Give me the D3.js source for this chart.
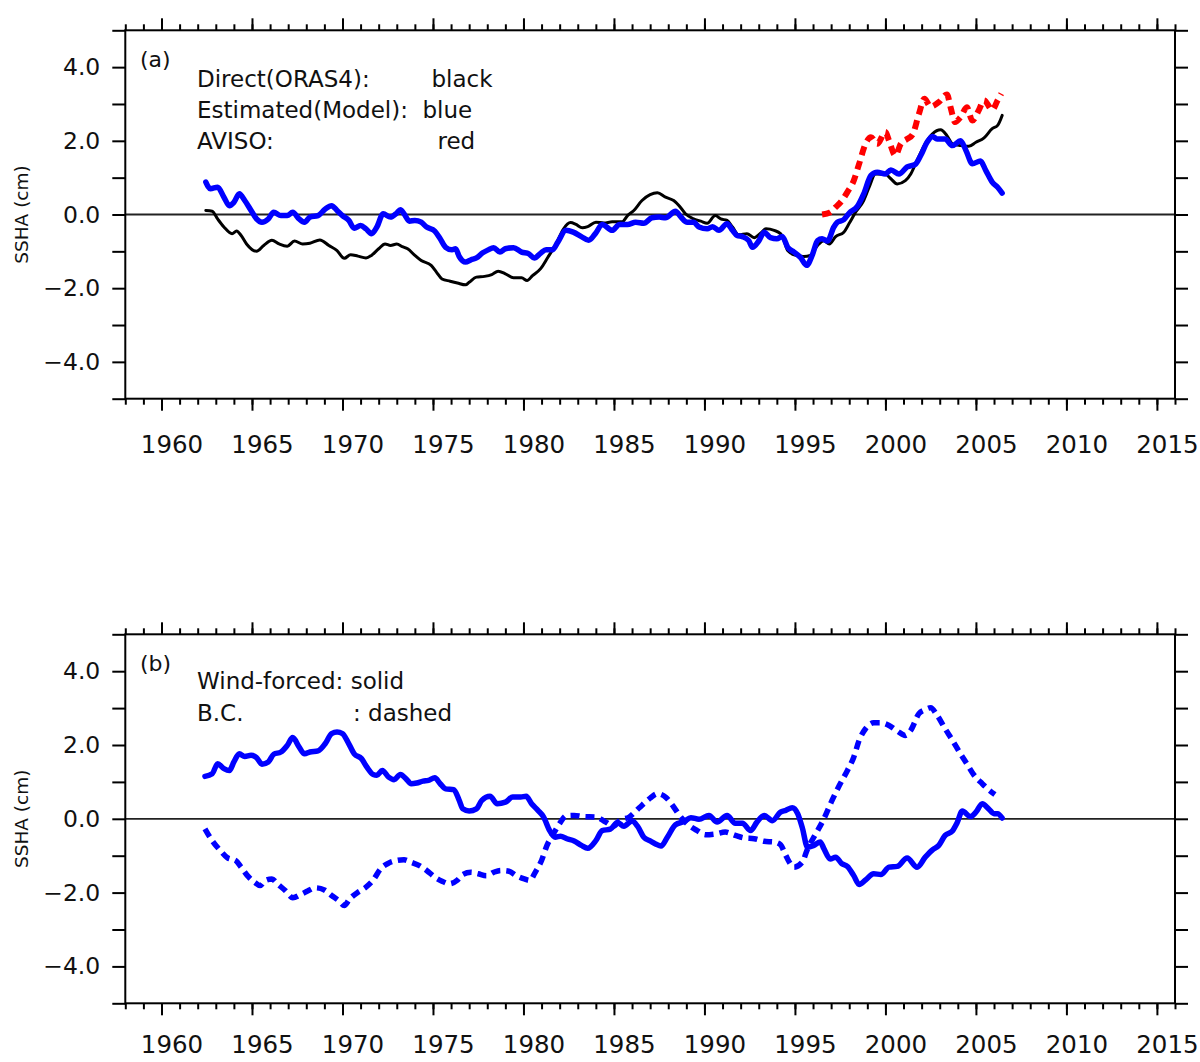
<!DOCTYPE html>
<html>
<head>
<meta charset="utf-8">
<script src="https://cdn.jsdelivr.net/npm/d3@7"></script>
<style>
  html, body { margin: 0; padding: 0; background: #fff; }
  svg { display: block; font-family: "DejaVu Sans", sans-serif; }
  .tick line { stroke: #000; stroke-width: 2; }
</style>
</head>
<body>
<svg id="chart" width="1200" height="1062"></svg>
<script>
(function () {
  "use strict";

  // ---- data (year, SSHA in cm) ----
  const directOras4 = [
    [1962.45,0.11],[1962.8,0.09],[1963.1,-0.12],[1963.45,-0.34],[1963.9,-0.52],[1964.15,-0.45],[1964.4,-0.57],[1964.7,-0.8],
    [1965.25,-1.0],[1965.65,-0.84],[1966.1,-0.7],[1966.5,-0.8],[1966.95,-0.86],[1967.35,-0.72],[1967.8,-0.8],[1968.2,-0.78],
    [1968.75,-0.69],[1969.25,-0.84],[1969.7,-0.98],[1970.1,-1.19],[1970.45,-1.09],[1970.85,-1.13],[1971.3,-1.18],[1971.6,-1.11],
    [1972.0,-0.93],[1972.35,-0.8],[1972.65,-0.84],[1973.0,-0.8],[1973.3,-0.87],[1973.6,-0.93],[1974.0,-1.11],[1974.35,-1.25],
    [1974.9,-1.38],[1975.2,-1.57],[1975.5,-1.75],[1975.95,-1.81],[1976.35,-1.86],[1976.8,-1.91],[1977.0,-1.84],[1977.4,-1.7],
    [1977.85,-1.68],[1978.25,-1.63],[1978.6,-1.54],[1979.0,-1.61],[1979.45,-1.72],[1979.9,-1.72],[1980.2,-1.79],[1980.5,-1.66],
    [1980.95,-1.47],[1981.35,-1.16],[1981.8,-0.8],[1982.2,-0.4],[1982.6,-0.22],[1982.9,-0.27],[1983.25,-0.36],[1983.55,-0.33],
    [1984.0,-0.21],[1984.45,-0.23],[1984.9,-0.2],[1985.45,-0.2],[1985.75,-0.03],[1986.1,0.11],[1986.55,0.38],[1987.0,0.54],
    [1987.4,0.59],[1987.85,0.47],[1988.3,0.38],[1988.6,0.24],[1988.95,0.02],[1989.4,-0.12],[1989.8,-0.18],[1990.15,-0.24],
    [1990.6,-0.03],[1990.9,-0.12],[1991.25,-0.16],[1991.55,-0.34],[1991.9,-0.55],[1992.35,-0.52],[1992.75,-0.63],[1993.1,-0.51],
    [1993.4,-0.39],[1993.85,-0.43],[1994.2,-0.52],[1994.4,-0.71],[1994.6,-0.98],[1995.05,-1.11],[1995.5,-1.14],[1995.85,-1.11],
    [1996.25,-0.84],[1996.6,-0.71],[1996.9,-0.8],[1997.25,-0.6],[1997.7,-0.48],[1998.0,-0.24],[1998.35,0.06],[1998.8,0.38],
    [1999.1,0.74],[1999.45,1.1],[2000.0,1.09],[2000.3,0.97],[2000.65,0.83],[2001.1,0.92],[2001.4,1.1],[2001.75,1.47],
    [2002.2,1.92],[2002.6,2.19],[2003.05,2.3],[2003.4,2.14],[2003.7,1.92],[2004.15,1.87],[2004.6,1.85],[2005.0,1.96],
    [2005.45,2.08],[2005.9,2.33],[2006.2,2.42],[2006.45,2.69]
  ];

  const estimatedModel = [
    [1962.45,0.88],[1962.7,0.7],[1963.1,0.74],[1963.45,0.47],[1963.75,0.24],[1964.0,0.33],[1964.3,0.56],[1964.6,0.38],
    [1964.95,0.11],[1965.25,-0.12],[1965.55,-0.21],[1965.9,-0.12],[1966.2,0.06],[1966.6,-0.03],[1966.95,-0.03],[1967.25,0.06],
    [1967.6,-0.12],[1967.9,-0.21],[1968.2,-0.07],[1968.65,-0.03],[1969.05,0.15],[1969.4,0.24],[1969.7,0.11],[1970.0,-0.03],
    [1970.35,-0.16],[1970.65,-0.37],[1971.0,-0.3],[1971.3,-0.39],[1971.6,-0.52],[1971.9,-0.34],[1972.25,0.02],[1972.65,-0.07],
    [1973.0,0.04],[1973.2,0.13],[1973.4,0.02],[1973.7,-0.18],[1974.0,-0.16],[1974.35,-0.21],[1974.65,-0.34],[1975.1,-0.45],
    [1975.4,-0.66],[1975.7,-0.89],[1976.05,-0.96],[1976.25,-0.93],[1976.45,-1.14],[1976.8,-1.29],[1977.1,-1.23],[1977.4,-1.18],
    [1977.75,-1.04],[1978.05,-0.96],[1978.35,-0.9],[1978.7,-1.02],[1979.0,-0.93],[1979.45,-0.9],[1979.9,-1.02],[1980.3,-1.07],
    [1980.6,-1.18],[1980.95,-1.05],[1981.25,-0.96],[1981.6,-0.96],[1981.9,-0.75],[1982.35,-0.43],[1982.75,-0.48],[1983.2,-0.6],
    [1983.6,-0.7],[1984.0,-0.5],[1984.35,-0.27],[1984.9,-0.43],[1985.3,-0.27],[1985.75,-0.27],[1986.2,-0.21],[1986.65,-0.24],
    [1987.1,-0.09],[1987.5,-0.07],[1987.85,-0.09],[1988.4,0.09],[1988.7,-0.07],[1989.05,-0.21],[1989.4,-0.21],[1989.7,-0.34],
    [1990.15,-0.39],[1990.45,-0.33],[1990.8,-0.43],[1991.25,-0.25],[1991.55,-0.43],[1991.8,-0.57],[1992.1,-0.6],[1992.45,-0.71],
    [1992.65,-0.89],[1993.0,-0.72],[1993.3,-0.48],[1993.65,-0.63],[1994.0,-0.66],[1994.3,-0.6],[1994.6,-0.89],[1994.95,-1.02],
    [1995.3,-1.16],[1995.65,-1.38],[1995.95,-1.11],[1996.25,-0.71],[1996.5,-0.66],[1996.8,-0.72],[1997.15,-0.34],[1997.35,-0.21],
    [1997.7,-0.14],[1998.0,0.04],[1998.45,0.22],[1998.8,0.56],[1999.2,1.06],[1999.55,1.15],[2000.0,1.1],[2000.3,1.21],
    [2000.75,1.1],[2001.2,1.29],[2001.65,1.36],[2001.95,1.6],[2002.3,1.96],[2002.6,2.12],[2002.85,2.05],[2003.3,2.05],
    [2003.7,1.87],[2004.15,2.0],[2004.45,1.74],[2004.8,1.38],[2005.25,1.45],[2005.55,1.19],[2005.9,0.88],[2006.2,0.74],
    [2006.45,0.58]
  ];

  const aviso = [
    [1996.5,0.0],[1996.95,0.06],[1997.25,0.2],[1997.6,0.38],[1997.9,0.61],[1998.25,0.92],[1998.55,1.38],[1998.9,1.92],
    [1999.2,2.1],[1999.55,1.92],[2000.0,2.24],[2000.2,2.0],[2000.55,1.6],[2000.85,1.92],[2001.2,2.05],[2001.5,2.17],
    [2001.85,2.73],[2002.15,3.14],[2002.5,2.93],[2002.95,3.05],[2003.4,3.26],[2003.6,2.91],[2003.85,2.51],[2004.15,2.64],
    [2004.5,2.91],[2004.8,2.55],[2005.15,2.82],[2005.45,3.1],[2005.9,2.84],[2006.2,3.1],[2006.4,3.28]
  ];

  const windForced = [
    [1962.4,1.15],[1962.8,1.22],[1963.1,1.49],[1963.45,1.36],[1963.75,1.31],[1964.0,1.54],[1964.3,1.76],[1964.6,1.69],
    [1964.95,1.72],[1965.25,1.66],[1965.55,1.48],[1965.9,1.54],[1966.2,1.75],[1966.6,1.81],[1966.95,1.99],[1967.25,2.2],
    [1967.6,1.95],[1967.9,1.76],[1968.2,1.81],[1968.65,1.84],[1969.05,2.04],[1969.4,2.31],[1969.7,2.35],[1970.0,2.31],
    [1970.3,2.08],[1970.65,1.76],[1971.05,1.63],[1971.35,1.4],[1971.7,1.2],[1971.9,1.18],[1972.2,1.31],[1972.55,1.13],
    [1972.85,1.06],[1973.2,1.2],[1973.5,1.09],[1973.8,0.95],[1974.1,0.97],[1974.45,1.02],[1974.75,1.04],[1975.1,1.11],
    [1975.4,0.95],[1975.7,0.81],[1976.15,0.79],[1976.45,0.5],[1976.65,0.27],[1977.0,0.21],[1977.4,0.27],[1977.7,0.5],
    [1978.15,0.61],[1978.55,0.41],[1979.0,0.45],[1979.4,0.59],[1979.85,0.59],[1980.15,0.61],[1980.45,0.41],[1980.8,0.23],
    [1981.1,0.06],[1981.45,-0.32],[1981.75,-0.5],[1982.05,-0.47],[1982.4,-0.54],[1982.8,-0.6],[1983.2,-0.72],[1983.55,-0.8],
    [1984.0,-0.59],[1984.35,-0.32],[1984.8,-0.28],[1985.2,-0.1],[1985.55,-0.2],[1986.0,-0.06],[1986.3,-0.2],[1986.65,-0.5],
    [1987.0,-0.6],[1987.3,-0.68],[1987.6,-0.74],[1987.95,-0.5],[1988.4,-0.16],[1988.85,-0.08],[1989.25,0.03],[1989.7,-0.01],
    [1990.25,0.09],[1990.7,-0.09],[1991.25,0.09],[1991.7,-0.12],[1992.1,-0.12],[1992.55,-0.32],[1992.9,-0.09],[1993.3,0.09],
    [1993.75,-0.05],[1994.2,0.18],[1994.5,0.23],[1994.85,0.3],[1995.15,0.14],[1995.4,-0.23],[1995.7,-0.77],[1996.05,-0.72],
    [1996.4,-0.63],[1996.6,-0.81],[1996.95,-1.09],[1997.25,-1.04],[1997.6,-1.22],[1997.9,-1.29],[1998.25,-1.54],[1998.55,-1.78],
    [1998.9,-1.66],[1999.35,-1.49],[1999.75,-1.51],[2000.2,-1.31],[2000.65,-1.29],[2001.2,-1.06],[2001.75,-1.31],[2002.2,-1.04],
    [2002.6,-0.84],[2002.95,-0.72],[2003.3,-0.45],[2003.7,-0.33],[2003.95,-0.12],[2004.25,0.21],[2004.7,0.06],[2005.0,0.18],
    [2005.35,0.41],[2005.7,0.27],[2006.0,0.14],[2006.2,0.14],[2006.45,0.02]
  ];

  const boundaryCond = [
    [1962.4,-0.27],[1962.8,-0.59],[1963.25,-0.86],[1963.65,-1.06],[1964.1,-1.13],[1964.4,-1.31],[1964.8,-1.57],[1965.15,-1.72],
    [1965.45,-1.81],[1965.75,-1.67],[1966.1,-1.63],[1966.4,-1.76],[1966.85,-1.95],[1967.25,-2.14],[1967.7,-2.05],[1968.1,-1.95],
    [1968.5,-1.87],[1969.0,-1.93],[1969.4,-2.08],[1969.8,-2.22],[1970.1,-2.35],[1970.4,-2.17],[1970.85,-1.99],[1971.25,-1.87],
    [1971.7,-1.66],[1972.1,-1.36],[1972.55,-1.2],[1973.0,-1.13],[1973.4,-1.11],[1973.8,-1.18],[1974.25,-1.27],[1974.65,-1.4],
    [1975.1,-1.58],[1975.5,-1.69],[1975.9,-1.76],[1976.35,-1.66],[1976.65,-1.51],[1977.1,-1.45],[1977.5,-1.49],[1977.95,-1.54],
    [1978.35,-1.45],[1978.75,-1.4],[1979.2,-1.42],[1979.6,-1.54],[1980.05,-1.63],[1980.35,-1.67],[1980.65,-1.45],[1981.0,-1.13],
    [1981.3,-0.72],[1981.65,-0.41],[1982.05,-0.09],[1982.35,0.08],[1982.8,0.09],[1983.3,0.06],[1984.0,0.05],[1984.55,-0.09],
    [1985.0,-0.2],[1985.3,-0.05],[1985.85,0.05],[1986.4,0.3],[1987.0,0.56],[1987.4,0.68],[1987.85,0.59],[1988.3,0.32],
    [1988.7,0.04],[1989.15,-0.18],[1989.6,-0.32],[1990.05,-0.43],[1990.6,-0.41],[1991.15,-0.36],[1991.7,-0.45],[1992.2,-0.52],
    [1992.75,-0.54],[1993.3,-0.61],[1993.85,-0.63],[1994.2,-0.7],[1994.5,-1.0],[1994.95,-1.31],[1995.4,-1.18],[1995.7,-0.81],
    [1996.15,-0.41],[1996.6,0.0],[1997.05,0.5],[1997.45,0.9],[1997.9,1.31],[1998.25,1.67],[1998.55,2.13],[1998.9,2.44],
    [1999.35,2.6],[1999.75,2.6],[2000.2,2.53],[2000.65,2.38],[2001.1,2.26],[2001.4,2.4],[2001.85,2.85],[2002.2,2.96],
    [2002.5,3.01],[2002.85,2.81],[2003.3,2.44],[2003.7,2.13],[2004.15,1.76],[2004.5,1.49],[2004.9,1.18],[2005.35,0.95],
    [2005.7,0.79],[2006.05,0.66]
  ];

  const xMajorTicks = [1960, 1965, 1970, 1975, 1980, 1985, 1990, 1995, 2000, 2005, 2010, 2015];
  const xMinorTicks = d3.range(1958, 2017);
  const yTicks = [-5, -4, -3, -2, -1, 0, 1, 2, 3, 4, 5];
  const yLabelled = [-4, -2, 0, 2, 4];

  const X_DOMAIN = [1958, 2016];
  const Y_DOMAIN = [-5, 5];
  const LEFT = 125.3;
  const RIGHT = 1175;

  const svg = d3.select("#chart");
  svg.append("rect").attr("width", 1200).attr("height", 1062).attr("fill", "#fff");

  const x = d3.scaleLinear().domain(X_DOMAIN).range([LEFT, RIGHT]);

  function drawPanel(opts) {
    const y = d3.scaleLinear().domain(Y_DOMAIN).range([opts.bottom, opts.top]);
    const g = svg.append("g");

    // zero line
    g.append("line")
      .attr("x1", LEFT).attr("x2", RIGHT)
      .attr("y1", y(0)).attr("y2", y(0))
      .attr("stroke", "#222").attr("stroke-width", 1.8);

    // series
    const line = d3.line()
      .x((d) => x(d[0]))
      .y((d) => y(d[1]))
      .curve(d3.curveMonotoneX);

    opts.series.forEach((s) => {
      g.append("path")
        .datum(s.data)
        .attr("d", line)
        .attr("fill", "none")
        .attr("stroke", s.color)
        .attr("stroke-width", s.width)
        .attr("stroke-linejoin", "round")
        .attr("stroke-linecap", s.dash ? "butt" : "round")
        .attr("stroke-dasharray", s.dash || null);
    });

    // frame
    g.append("rect")
      .attr("x", LEFT).attr("y", opts.top)
      .attr("width", RIGHT - LEFT).attr("height", opts.bottom - opts.top)
      .attr("fill", "none").attr("stroke", "#000").attr("stroke-width", 2);

    // x ticks, bottom and top
    const bottomMinor = d3.axisBottom(x).tickValues(xMinorTicks).tickSize(6).tickFormat("");
    const bottomMajor = d3.axisBottom(x).tickValues(xMajorTicks).tickSize(12)
      .tickPadding(opts.labelPad).tickFormat(d3.format("d"));
    const topMinor = d3.axisTop(x).tickValues(xMinorTicks).tickSize(6).tickFormat("");
    const topMajor = d3.axisTop(x).tickValues(xMajorTicks).tickSize(12).tickFormat("");

    [bottomMinor, bottomMajor].forEach((ax) => {
      g.append("g").attr("transform", `translate(0,${opts.bottom})`).call(ax).call((a) => a.select(".domain").remove());
    });
    [topMinor, topMajor].forEach((ax) => {
      g.append("g").attr("transform", `translate(0,${opts.top})`).call(ax).call((a) => a.select(".domain").remove());
    });

    g.selectAll("text").filter(function () { return this.textContent; })
      .attr("font-family", "DejaVu Sans")
      .attr("font-size", 24.5)
      .attr("fill", "#111")
      .attr("dx", 10);

    // y ticks, left and right
    const leftAxis = d3.axisLeft(y).tickValues(yTicks).tickSize(13).tickPadding(12)
      .tickFormat((v) => (yLabelled.includes(v) ? d3.format(".1f")(v) : ""));
    const rightAxis = d3.axisRight(y).tickValues(yTicks).tickSize(13).tickFormat("");

    const la = g.append("g").attr("transform", `translate(${LEFT},0)`).call(leftAxis);
    la.select(".domain").remove();
    la.selectAll("text").attr("font-family", "DejaVu Sans").attr("font-size", 23.5).attr("fill", "#111");

    g.append("g").attr("transform", `translate(${RIGHT},0)`).call(rightAxis)
      .call((a) => a.select(".domain").remove());

    // y title
    g.append("text")
      .attr("transform", `translate(28,${(opts.top + opts.bottom) / 2}) rotate(-90)`)
      .attr("text-anchor", "middle")
      .attr("font-size", 18.5)
      .attr("fill", "#111")
      .text("SSHA (cm)");

    // panel letter
    g.append("text")
      .attr("x", 140).attr("y", opts.top + 37)
      .attr("font-size", 22)
      .attr("fill", "#111")
      .text(opts.letter);

    // legend text
    opts.legend.forEach((row, i) => {
      const t = g.append("text")
        .attr("y", opts.top + opts.legendY + i * opts.legendStep)
        .attr("font-size", 23)
        .attr("fill", "#111");
      t.append("tspan").attr("x", 197).text(row[0]);
      if (row[1]) t.append("tspan").attr("x", row[2]).text(row[1]);
    });
  }

  drawPanel({
    top: 30.3,
    bottom: 398.7,
    labelPad: 25,
    letter: "(a)",
    legendY: 57,
    legendStep: 30.8,
    legend: [
      ["Direct(ORAS4):", "black", 431.5],
      ["Estimated(Model):", "blue", 422.5],
      ["AVISO:", "red", 437.5]
    ],
    series: [
      { data: directOras4, color: "#000", width: 3 },
      { data: estimatedModel, color: "#0000ff", width: 5.5 },
      { data: aviso, color: "#ff0000", width: 6, dash: "9,6" }
    ]
  });

  drawPanel({
    top: 634.3,
    bottom: 1003.3,
    labelPad: 20,
    letter: "(b)",
    legendY: 55,
    legendStep: 31.5,
    legend: [
      ["Wind-forced: solid", "", 0],
      ["B.C.", ": dashed", 353]
    ],
    series: [
      { data: windForced, color: "#0000ff", width: 5.5 },
      { data: boundaryCond, color: "#0000ff", width: 5.5, dash: "9,6" }
    ]
  });
})();
</script>
</body>
</html>
